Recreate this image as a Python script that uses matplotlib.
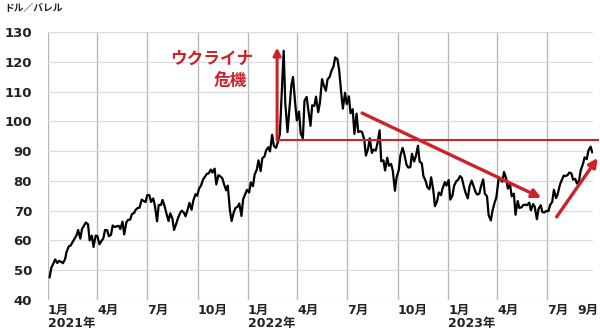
import numpy as np
import pandas as pd
import matplotlib
matplotlib.use("Agg")
import matplotlib.pyplot as plt

# DejaVu for the digits (wide, Verdana-like), Noto CJK for the kana/kanji
plt.rcParams['font.family'] = ['DejaVu Sans', 'Noto Sans CJK JP']

# WTI, ドル／バレル, sampled Mon/Thu from 2021-01-04
wti_2021 = [
    47.6, 50.8, 52.3, 53.6, 52.4, 53.1, 52.8, 52.3,         # Jan
    53.6, 56.2, 58.0, 58.2, 59.5, 60.5, 61.7, 63.5,         # Feb
    60.6, 63.8, 65.1, 66.0, 65.4, 60.0, 61.6, 57.8, 61.6,   # Mar
    61.5, 58.7, 59.6, 60.7, 63.5, 63.4, 61.4, 61.9, 65.0,   # Apr
    64.5, 64.7, 64.9, 63.8, 66.3, 62.0, 66.1, 66.9, 67.0,   # May
    68.8, 69.2, 70.3, 70.9, 71.0, 73.7, 73.3, 72.9,         # Jun
    75.2, 75.2, 72.9, 74.1, 71.7, 66.4, 71.9, 71.9, 73.6,   # Jul
    71.3, 69.1, 66.5, 69.1, 67.3, 63.5, 65.6, 67.4, 69.2,   # Aug
    70.0, 69.3, 68.1, 70.5, 72.6, 70.3, 73.3, 75.5, 75.0,   # Sep
    77.6, 78.3, 80.5, 81.3, 82.4, 82.5, 83.8, 82.8,         # Oct
    84.1, 78.8, 81.9, 81.6, 80.9, 79.0, 76.8, 78.4, 70.0,   # Nov
    66.5, 69.5, 70.9, 71.3, 72.4, 68.2, 73.8, 75.6, 77.0,   # Dec
]
wti_2022 = [
    76.1, 79.5, 78.2, 82.1, 83.8, 86.9, 83.3, 87.6, 88.2,            # Jan
    90.3, 91.3, 89.9, 95.5, 91.8, 91.1, 92.8, 95.7,                  # Feb
    107.7, 123.7, 106.0, 96.4, 103.0, 112.1, 114.9, 106.0, 100.3,    # Mar
    103.3, 96.0, 94.3, 107.0, 108.2, 103.8, 98.5, 105.4,             # Apr
    105.2, 108.3, 103.1, 106.1, 114.2, 112.2, 110.3, 114.1, 115.0,   # May
    116.9, 118.5, 121.5, 120.9, 117.6, 109.6, 104.3, 109.6, 105.8,   # Jun
    108.4, 102.7, 104.1, 95.8, 102.6, 96.4, 96.7, 96.4,              # Jul
    93.9, 88.5, 90.8, 94.3, 89.4, 90.5, 90.2, 92.5, 97.0,            # Aug
    86.6, 86.9, 83.5, 87.8, 85.1, 85.7, 83.5, 76.7, 81.2,            # Sep
    83.6, 88.5, 91.1, 89.1, 85.5, 84.5, 84.6, 89.1, 86.5,            # Oct
    88.2, 91.8, 86.5, 85.9, 81.6, 80.0, 77.9, 77.2,                  # Nov
    81.2, 76.9, 71.5, 73.2, 76.1, 75.2, 77.5, 79.6, 78.4,            # Dec
]
wti_2023 = [
    80.3, 73.7, 75.1, 78.4, 79.9, 80.3, 81.6, 81.0, 77.9,   # Jan
    75.9, 74.1, 78.1, 80.1, 78.5, 76.3, 75.4, 75.7,         # Feb
    78.2, 80.5, 75.7, 74.8, 68.4, 66.7, 70.0, 72.8, 74.4,   # Mar
    80.4, 80.7, 79.7, 83.0, 80.8, 77.4, 78.8, 74.8,         # Apr
    75.7, 68.6, 73.2, 70.9, 71.1, 71.9, 72.0, 71.8, 72.7,   # May
    70.1, 72.2, 71.3, 67.1, 70.6, 71.8, 69.5, 69.4, 69.9,   # Jun
    69.8, 71.8, 73.0, 77.0, 74.2, 75.6, 78.7, 80.1, 81.8,   # Jul
    81.6, 81.9, 82.8, 82.5, 80.4, 80.7, 79.1, 80.1, 83.6,   # Aug
    85.6, 87.9, 87.3, 90.2, 91.5, 89.6,                     # Sep
]
wti = wti_2021 + wti_2022 + wti_2023

mondays = pd.date_range("2021-01-04", "2023-12-31", freq="W-MON")
thursdays = pd.date_range("2021-01-07", "2023-12-31", freq="W-THU")
dates = mondays.union(thursdays)[:len(wti)]

# the 9月 label sits a little left of its month start, as in the source
tick_dates = ["2021-01-01", "2021-04-01", "2021-07-01", "2021-10-01",
              "2022-01-01", "2022-04-01", "2022-07-01", "2022-10-01",
              "2023-01-01", "2023-04-01", "2023-07-01", "2023-08-24"]
tick_labels = ["1月\n2021年", "4月", "7月", "10月",
               "1月\n2022年", "4月", "7月", "10月",
               "1月\n2023年", "4月", "7月", "9月"]
grid_dates = tick_dates[:-1]

# annotation anchors (date, price)
invasion = "2022-02-23"
crisis_level = 93.8
crisis_top = 124.8
down_start = ("2022-07-28", 102.8)
down_end = ("2023-06-20", 74.3)
up_start = ("2023-07-18", 67.9)
up_end = ("2023-10-01", 87.7)

red = '#cc2229'
dark = '#222222'

fig = plt.figure(figsize=(6, 3.31), dpi=100)
ax = fig.add_axes([0.08, 0.094, 0.908, 0.809])

ax.set_xlim(pd.Timestamp("2021-01-01"), pd.Timestamp("2023-09-22"))
ax.set_ylim(40, 130)

ax.set_yticks(np.arange(40, 131, 10))
ax.yaxis.grid(True, color='#dcdcdc', lw=0.9)
for d in grid_dates:
    ax.axvline(pd.Timestamp(d), color='#b8b8b8', lw=1.0, zorder=0)
ax.set_axisbelow(True)
for s in ax.spines.values():
    s.set_visible(False)

ax.plot(dates, wti, color='black', lw=1.6, zorder=3)

ax.set_xticks(pd.to_datetime(tick_dates))
ax.set_xticklabels(tick_labels, ha='left', fontsize=9, fontweight='bold',
                   linespacing=1.0, color=dark)
ax.tick_params(axis='x', length=0, pad=3)
ax.tick_params(axis='y', length=0, pad=11.5, labelsize=9.5)
for lab in ax.get_yticklabels():
    lab.set_fontweight('bold')
    lab.set_color(dark)

# ukraine crisis
inv = pd.Timestamp(invasion)
ax.plot([inv, pd.Timestamp("2023-10-01")], [crisis_level, crisis_level],
        color=red, lw=1.5, clip_on=False, zorder=4)
ax.annotate("", xy=(inv, crisis_top), xytext=(inv, crisis_level),
            arrowprops=dict(arrowstyle="-|>", color=red, lw=2.2,
                            mutation_scale=11, shrinkA=0, shrinkB=0), zorder=5)
ax.text(pd.Timestamp("2021-10-27"), 121.0, "ウクライナ", color=red,
        fontsize=12, fontweight='bold', ha='center', va='center')
ax.text(pd.Timestamp("2021-11-29"), 113.6, "危機", color=red,
        fontsize=12, fontweight='bold', ha='center', va='center')

# trend arrows
for a, b in [(down_start, down_end), (up_start, up_end)]:
    ax.annotate("", xy=(pd.Timestamp(b[0]), b[1]),
                xytext=(pd.Timestamp(a[0]), a[1]),
                arrowprops=dict(arrowstyle="-|>", color=red, lw=2.4,
                                mutation_scale=13, shrinkA=0, shrinkB=0),
                annotation_clip=False, zorder=5)

fig.text(4 / 600, 1 - 8 / 331, "ドル／バレル", fontsize=7, fontweight='bold',
         color=dark, ha='left', va='center')

fig.savefig("out.png", dpi=100)
